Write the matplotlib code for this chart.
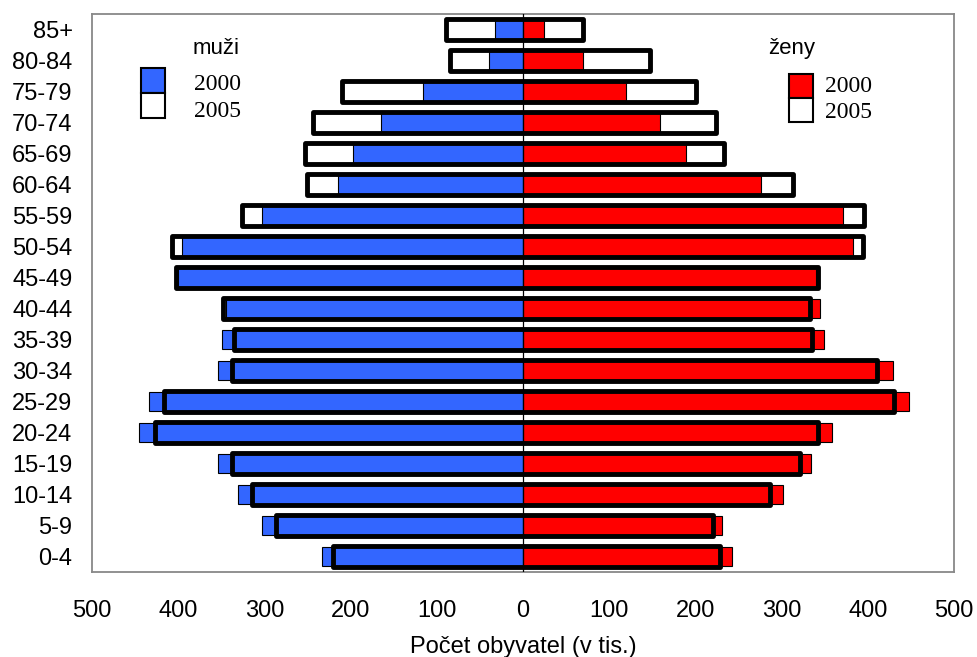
import numpy as np
import matplotlib.pyplot as plt
from matplotlib.patches import Rectangle

ages = ['0-4', '5-9', '10-14', '15-19', '20-24', '25-29', '30-34', '35-39', '40-44',
        '45-49', '50-54', '55-59', '60-64', '65-69', '70-74', '75-79', '80-84', '85+']
# values in thousands (index 0 = 0-4)
men_2000 = [233, 303, 331, 354, 445, 434, 354, 349, 345, 400, 396, 303, 215, 197, 165, 116, 39, 33]
men_2005 = [220, 287, 314, 338, 427, 416, 338, 335, 348, 403, 407, 326, 251, 253, 244, 210, 85, 89]
women_2000 = [242, 231, 302, 334, 358, 448, 429, 349, 345, 340, 383, 371, 276, 189, 159, 119, 70, 24]
women_2005 = [229, 220, 287, 321, 342, 430, 411, 335, 333, 342, 394, 396, 313, 233, 224, 201, 147, 70]

blue = '#3366ff'
red = '#ff0000'

m00 = np.array(men_2000)
m05 = np.array(men_2005)
f00 = np.array(women_2000)
f05 = np.array(women_2005)
ind = np.arange(len(ages))

fig = plt.figure(figsize=(9.77, 6.57), dpi=100)
ax = fig.add_axes([0.0942, 0.1294, 0.8823, 0.8493])

# 2005: white fill behind, thick outline on top
ax.barh(ind, m05 + f05, left=-m05, height=0.67, color='white', edgecolor='none', zorder=1)
ax.barh(ind, -m00, height=0.64, color=blue, edgecolor='black', linewidth=0.8, zorder=2)
ax.barh(ind, f00, height=0.64, color=red, edgecolor='black', linewidth=0.8, zorder=2)
ax.barh(ind, m05 + f05, left=-m05, height=0.67, fill=False, edgecolor='black',
        linewidth=3.5, joinstyle='round', zorder=3)
ax.axvline(0, color='black', lw=0.9, zorder=4)

ax.set_xlim(-500, 500)
ax.set_ylim(-0.5, 17.5)
ax.set_yticks(ind)
ax.set_yticklabels(ages, family='Liberation Sans', fontsize=17)
ticks = np.arange(-500, 501, 100)
ax.set_xticks(ticks)
ax.set_xticklabels([str(abs(t)) for t in ticks], family='Liberation Sans', fontsize=17)
ax.tick_params(length=0)
ax.tick_params(axis='y', pad=14)
ax.tick_params(axis='x', pad=20)
ax.set_xlabel('Počet obyvatel (v tis.)', family='Liberation Sans', fontsize=17, labelpad=10)
for s in ax.spines.values():
    s.set_color('#888888')
    s.set_linewidth(1.3)

# legends
ax.text(0.1439, 0.939, 'muži', transform=ax.transAxes, ha='center', va='center',
        family='Liberation Sans', fontsize=16)
ax.add_patch(Rectangle((0.0568, 0.8584), 0.0278, 0.0448, transform=ax.transAxes,
                       facecolor=blue, edgecolor='black', lw=1.5, zorder=5))
ax.add_patch(Rectangle((0.0568, 0.8136), 0.0278, 0.0448, transform=ax.transAxes,
                       facecolor='white', edgecolor='black', lw=1.5, zorder=5))
ax.text(0.1183, 0.8728, '2000', transform=ax.transAxes, va='center',
        family='Liberation Serif', fontsize=17)
ax.text(0.1183, 0.8244, '2005', transform=ax.transAxes, va='center',
        family='Liberation Serif', fontsize=17)

ax.text(0.812, 0.939, 'ženy', transform=ax.transAxes, ha='center', va='center',
        family='Liberation Sans', fontsize=16)
ax.add_patch(Rectangle((0.8086, 0.8495), 0.0278, 0.043, transform=ax.transAxes,
                       facecolor=red, edgecolor='black', lw=1.5, zorder=5))
ax.add_patch(Rectangle((0.8086, 0.8065), 0.0278, 0.043, transform=ax.transAxes,
                       facecolor='white', edgecolor='black', lw=1.5, zorder=5))
ax.text(0.8503, 0.8692, '2000', transform=ax.transAxes, va='center',
        family='Liberation Serif', fontsize=17)
ax.text(0.8503, 0.8226, '2005', transform=ax.transAxes, va='center',
        family='Liberation Serif', fontsize=17)

plt.savefig('out.png', dpi=100)
